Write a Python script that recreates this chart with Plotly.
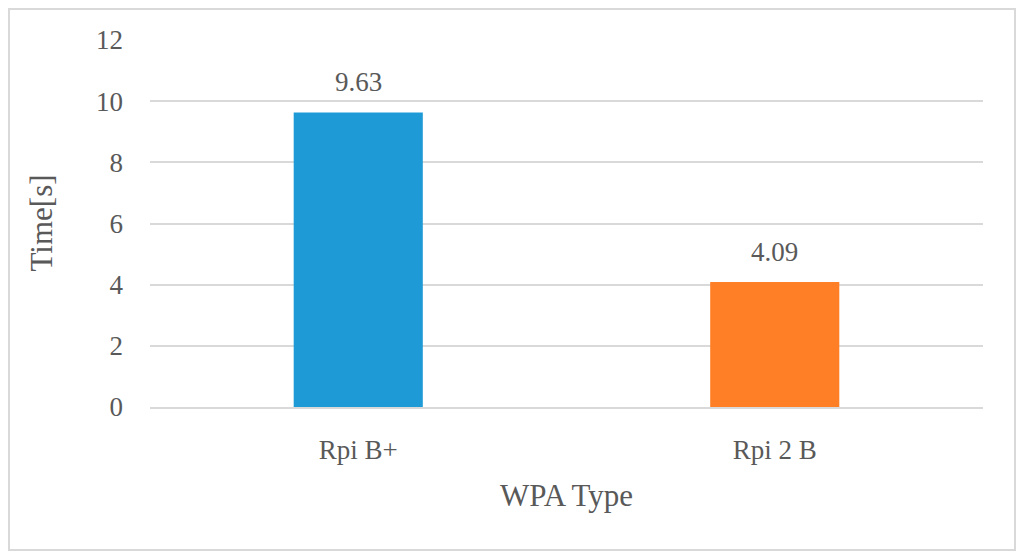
import plotly.graph_objects as go

categories = ["Rpi B+", "Rpi 2 B"]
values = [9.63, 4.09]
labels = ["9.63", "4.09"]
colors = ["#1E9BD7", "#FF7F27"]
x_title = "WPA Type"
y_title = "Time[s]"

font_family = "Palatino Linotype, Book Antiqua, Liberation Serif, DejaVu Serif, serif"
grey = "#595959"

# figure is placed at (8,8) by the page's body margin
W, H = 1008, 543
L, R, T, B = 142, 33, 32, 144
pw, ph = W - L - R, H - T - B

fig = go.Figure()
fig.add_trace(go.Bar(
    x=categories, y=values,
    marker=dict(color=colors, line=dict(width=0)),
    width=0.31, hoverinfo="x+y",
))

annotations = [
    dict(x=c, y=v, text=t, xref="x", yref="y", showarrow=False,
         yanchor="bottom", xanchor="center", yshift=13,
         font=dict(family=font_family, size=27, color=grey))
    for c, v, t in zip(categories, values, labels)
]
annotations.append(dict(
    x=0.5, y=-(487 - (T + ph)) / ph, xref="paper", yref="paper",
    text=x_title, showarrow=False, xanchor="center", yanchor="middle",
    font=dict(family=font_family, size=31, color=grey)))
annotations.append(dict(
    x=(33 - L) / pw, y=0.5, xref="paper", yref="paper",
    text=y_title, showarrow=False, xanchor="center", yanchor="middle",
    textangle=-90,
    font=dict(family=font_family, size=31, color=grey)))

fig.update_layout(
    width=W, height=H,
    margin=dict(l=L, r=R, t=T, b=B, pad=0),
    paper_bgcolor="white", plot_bgcolor="white",
    showlegend=False,
    font=dict(family=font_family, color=grey),
    xaxis=dict(
        tickfont=dict(size=27, color=grey),
        showline=True, linecolor="#D9D9D9", linewidth=2,
        ticks="", showgrid=False, ticklabelstandoff=18,
    ),
    yaxis=dict(
        tickfont=dict(size=27, color=grey),
        range=[0, 12], dtick=2,
        showgrid=True, gridcolor="#D9D9D9", gridwidth=1.5,
        zeroline=False, ticks="", ticklabelstandoff=26,
    ),
    annotations=annotations,
    shapes=[dict(type="rect", xref="paper", yref="paper",
                 x0=(1 - L) / pw, x1=(W - 1 - L) / pw,
                 y0=-(H - 1 - (T + ph)) / ph, y1=1 + (T - 1) / ph,
                 line=dict(color="#D9D9D9", width=2), layer="below")],
)

fig.write_html("out.html")
